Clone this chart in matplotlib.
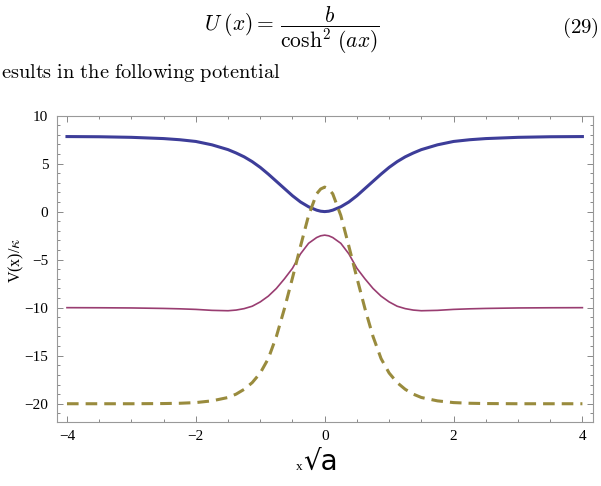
import matplotlib
matplotlib.use("Agg")
import matplotlib.pyplot as plt
import matplotlib.ticker as mticker

# values (symmetric about x = 0)
x_half = [0.0, 0.0625, 0.125, 0.25, 0.375, 0.5, 0.625, 0.75, 0.875, 1.0, 1.125,
          1.25, 1.375, 1.5, 1.75, 2.0, 2.25, 2.5, 3.0, 3.5, 4.0]
v_blue = [0.0, 0.04, 0.15, 0.5, 1.0, 1.65, 2.4, 3.15, 3.9, 4.6, 5.2,
          5.7, 6.1, 6.45, 6.95, 7.3, 7.48, 7.6, 7.73, 7.79, 7.81]
v_pink = [-2.45, -2.52, -2.7, -3.3, -4.4, -5.9, -7.0, -8.0, -8.8, -9.4, -9.85,
          -10.1, -10.25, -10.32, -10.28, -10.18, -10.12, -10.08, -10.03, -10.01, -10.0]
v_olive = [2.55, 2.35, 1.85, -0.4, -3.6, -6.9, -10.1, -13.0, -15.3, -16.8, -17.8,
           -18.5, -19.0, -19.35, -19.7, -19.88, -19.95, -19.98, -20.0, -20.0, -20.0]

BLUE, PINK, OLIVE = "#3d3d99", "#993d71", "#998b3d"


def mirror(xs, ys):
    return [-v for v in xs[:0:-1]] + xs, ys[:0:-1] + ys


plt.rcParams["mathtext.fontset"] = "cm"
fig = plt.figure(figsize=(6.01, 4.86), dpi=100)

# text from the page above the figure
fig.text(0.486, 0.938, r"$U\;(x)=\,\dfrac{b}{\cosh^2\,(ax)}$", fontsize=15.5,
         ha="center", va="center")
fig.text(0.996, 0.942, r"$\mathrm{(29)}$", fontsize=15, ha="right", va="center")
fig.text(0.002, 0.849, r"$\mathrm{esults\ in\ the\ following\ potential}$", fontsize=14.7,
         ha="left", va="center")

ax = fig.add_axes([0.0943, 0.1317, 0.8919, 0.6306])
for ys, col, lw, ls in [(v_blue, BLUE, 2.2, "-"), (v_pink, PINK, 1.2, "-"),
                        (v_olive, OLIVE, 2.2, (0, (3.8, 2.3)))]:
    xx, yy = mirror(x_half, ys)
    ax.plot(xx, yy, color=col, lw=lw, linestyle=ls)

ax.set_xlim(-4.16, 4.16)
ax.set_ylim(-21.9, 10)
ax.xaxis.set_major_locator(mticker.MultipleLocator(2))
ax.xaxis.set_minor_locator(mticker.MultipleLocator(0.5))
ax.yaxis.set_major_locator(mticker.MultipleLocator(5))
ax.yaxis.set_minor_locator(mticker.MultipleLocator(1))
fmt = mticker.FuncFormatter(lambda v, _: f"{v:.0f}".replace("-", "\u2212"))
ax.yaxis.set_major_formatter(fmt)
ax.xaxis.set_major_formatter(fmt)
ax.tick_params(which="both", direction="in", top=True, right=True, color="#888888", width=0.7)
ax.tick_params(which="major", length=4.5, labelsize=11, pad=6)
ax.tick_params(which="minor", length=2.5)
for lab in ax.get_xticklabels() + ax.get_yticklabels():
    lab.set_family("Liberation Serif")
for s in ax.spines.values():
    s.set_color("#999999")
    s.set_linewidth(0.8)

fig.text(0.027, 0.465, r"V(x)/$\kappa$", rotation=90, fontsize=11.5,
         ha="center", va="center", family="Liberation Serif")
fig.text(0.503, 0.033, "x", fontsize=9.5, ha="right", va="baseline", family="Liberation Serif")
fig.text(0.505, 0.033, "\u221aa", fontsize=20, ha="left", va="baseline", family="DejaVu Sans")

fig.savefig("out.png", dpi=100)
